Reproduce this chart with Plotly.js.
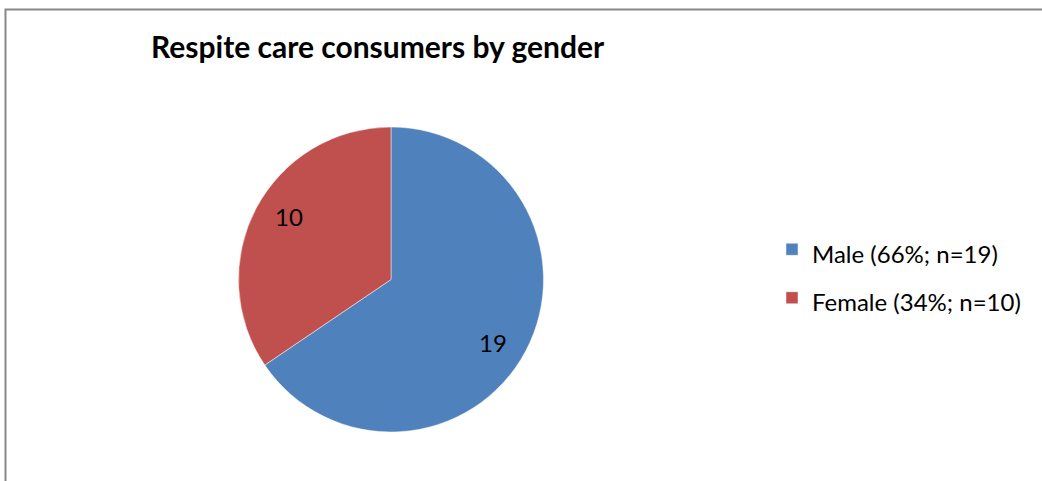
<!DOCTYPE html>
<html>
<head>
<meta charset="utf-8">
<script src="https://cdn.plot.ly/plotly-3.0.1.min.js"></script>
<style>html,body{margin:0;padding:0;background:#fff;}#chart{width:1042px;height:481px;}</style>
</head>
<body>
<div id="chart"></div>
<script>
// Data
const categories = ["Male (66%; n=19)", "Female (34%; n=10)"];
const counts = [19, 10];
const sliceColors = ["#4F81BD", "#C0504D"];
const chartTitle = "Respite care consumers by gender";

const W = 1042, H = 481;
const px = v => v / W, py = v => 1 - v / H;

// pie geometry (pixels)
const pieTop = 127, pieBottom = 432, pieLeft = 238, pieRight = 544;
const cx = (pieLeft + pieRight) / 2, cy = (pieTop + pieBottom) / 2;
const R = (pieBottom - pieTop) / 2;
const labelR = 0.785 * R;
const labelAngleShift = 4 * Math.PI / 180;

const trace = {
  type: "pie",
  labels: categories,
  values: counts,
  textinfo: "none",
  sort: false,
  direction: "clockwise",
  rotation: 0,
  marker: {colors: sliceColors, line: {color: "rgba(255,255,255,0.6)", width: 0.8}},
  domain: {x: [px(pieLeft), px(pieRight)], y: [py(pieBottom), py(pieTop)]},
  hoverinfo: "label+value"
};

// value labels near each slice's mid-angle (clockwise from 12 o'clock)
const total = counts.reduce((a, b) => a + b, 0);
let cum = 0;
const valueAnns = counts.map(v => {
  const mid = (cum + v / 2) / total * 2 * Math.PI + labelAngleShift;
  cum += v;
  return {
    text: String(v), showarrow: false,
    xref: "paper", yref: "paper",
    x: px(cx + labelR * Math.sin(mid)), y: py(cy - labelR * Math.cos(mid)),
    xanchor: "center", yanchor: "middle",
    font: {family: "Lato, sans-serif", size: 24, color: "#000"}
  };
});

const layout = {
  width: W, height: H,
  margin: {l: 0, r: 0, t: 0, b: 0},
  paper_bgcolor: "#fff",
  showlegend: true,
  title: {
    text: "<b>" + chartTitle + "</b>",
    font: {family: "Lato, sans-serif", size: 30, color: "#000"},
    x: px(151), xanchor: "left", xref: "paper",
    y: py(47), yanchor: "middle", yref: "container"
  },
  legend: {
    x: px(772), xanchor: "left",
    y: py(220), yanchor: "top",
    font: {family: "Lato, sans-serif", size: 35, color: "#000"},
    bgcolor: "rgba(0,0,0,0)"
  },
  shapes: [{
    type: "rect", xref: "paper", yref: "paper",
    x0: px(5.5), x1: px(1060), y0: py(500), y1: py(9.5),
    line: {color: "#878787", width: 2}
  }],
  annotations: valueAnns
};

trace.labels = categories.map(c => "<span style=\"font-size:24px\">" + c + "</span>");

Plotly.newPlot("chart", [trace], layout, {displayModeBar: false, staticPlot: true});
</script>
</body>
</html>
